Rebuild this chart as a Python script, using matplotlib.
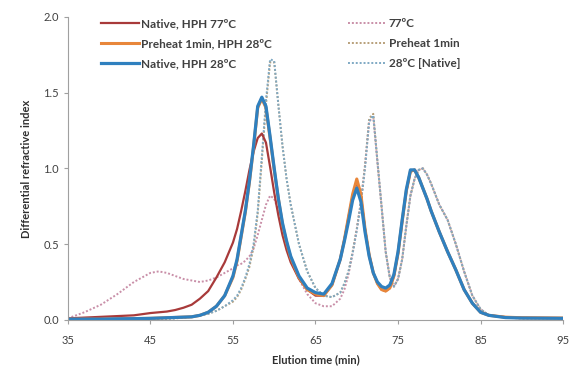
import matplotlib
matplotlib.use("Agg")
import matplotlib.pyplot as plt

plt.rcParams['font.family'] = ['Lato', 'DejaVu Sans']

# Elution time grid (min)
time_min = [35, 37, 39, 41, 43, 45, 46, 47, 48, 49, 50, 51, 52, 53, 54, 55,
            55.5, 56, 56.5, 57, 57.5, 58, 58.5, 59, 59.5, 60, 60.5, 61, 61.5, 62,
            63, 64, 65, 66, 67, 68,
            68.5, 69, 69.5, 70, 70.5, 71, 71.5, 72, 72.5, 73, 73.5, 74, 74.5,
            75, 75.5, 76, 76.5, 77, 77.5, 78, 78.5, 79,
            80, 81, 82, 83, 84, 85, 86, 88, 90, 95]

native_hph77 = [0.01, 0.015, 0.02, 0.025, 0.03, 0.045, 0.05, 0.055, 0.065, 0.08, 0.1, 0.14, 0.19, 0.28, 0.38, 0.51,
                0.6, 0.72, 0.85, 0.99, 1.11, 1.2, 1.23, 1.17, 1.01, 0.84, 0.69, 0.56, 0.46, 0.38,
                0.27, 0.2, 0.16, 0.16, 0.23, 0.4,
                0.53, 0.68, 0.82, 0.91, 0.82, 0.6, 0.43, 0.31, 0.24, 0.2, 0.19, 0.21, 0.29,
                0.44, 0.65, 0.85, 0.98, 0.99, 0.94, 0.87, 0.8, 0.72,
                0.58, 0.45, 0.33, 0.2, 0.11, 0.05, 0.03, 0.018, 0.014, 0.012]

preheat_hph28 = [0.005, 0.005, 0.005, 0.007, 0.008, 0.01, 0.012, 0.014, 0.016, 0.018, 0.02, 0.03, 0.05, 0.09, 0.16, 0.28,
                 0.39, 0.55, 0.71, 0.91, 1.14, 1.4, 1.46, 1.4, 1.2, 0.99, 0.8, 0.63, 0.51, 0.41,
                 0.28, 0.2, 0.17, 0.16, 0.23, 0.4,
                 0.53, 0.68, 0.83, 0.93, 0.83, 0.6, 0.43, 0.31, 0.24, 0.2, 0.19, 0.21, 0.29,
                 0.44, 0.65, 0.85, 0.98, 0.99, 0.94, 0.87, 0.8, 0.72,
                 0.58, 0.45, 0.33, 0.2, 0.11, 0.05, 0.03, 0.018, 0.014, 0.012]

native_hph28 = [0.005, 0.005, 0.005, 0.007, 0.008, 0.01, 0.012, 0.014, 0.016, 0.018, 0.02, 0.03, 0.05, 0.09, 0.16, 0.29,
                0.4, 0.56, 0.72, 0.92, 1.15, 1.41, 1.47, 1.41, 1.21, 1.0, 0.8, 0.64, 0.52, 0.42,
                0.29, 0.21, 0.18, 0.17, 0.24, 0.4,
                0.52, 0.65, 0.79, 0.87, 0.78, 0.58, 0.42, 0.31, 0.25, 0.22, 0.21, 0.23, 0.3,
                0.45, 0.66, 0.86, 0.99, 0.99, 0.94, 0.87, 0.8, 0.72,
                0.58, 0.45, 0.33, 0.2, 0.11, 0.05, 0.03, 0.015, 0.012, 0.01]

heated_77 = [0.01, 0.05, 0.1, 0.17, 0.25, 0.31, 0.32, 0.31, 0.29, 0.27, 0.26, 0.25, 0.26, 0.28, 0.31, 0.34,
             0.36, 0.37, 0.39, 0.42, 0.47, 0.56, 0.66, 0.76, 0.82, 0.8, 0.72, 0.6, 0.5, 0.41,
             0.27, 0.17, 0.11, 0.09, 0.09, 0.14,
             0.2, 0.3, 0.44, 0.6, 0.78, 1.02, 1.31, 1.34, 1.04, 0.75, 0.45, 0.28, 0.22,
             0.27, 0.4, 0.62, 0.82, 0.93, 0.99, 1.0, 0.96, 0.9,
             0.76, 0.66, 0.5, 0.32, 0.16, 0.07, 0.03, 0.015, 0.01, 0.01]

preheat_1min = [0.0, 0.0, 0.0, 0.002, 0.004, 0.005, 0.006, 0.008, 0.01, 0.015, 0.02, 0.03, 0.04, 0.06, 0.09, 0.12,
                0.15, 0.2, 0.27, 0.35, 0.48, 0.7, 1.05, 1.42, 1.7, 1.7, 1.42, 1.15, 0.93, 0.76,
                0.5, 0.32, 0.21, 0.16, 0.15, 0.18,
                0.24, 0.32, 0.45, 0.6, 0.78, 1.02, 1.33, 1.36, 1.05, 0.75, 0.45, 0.28, 0.22,
                0.27, 0.4, 0.62, 0.82, 0.93, 0.99, 1.0, 0.96, 0.9,
                0.76, 0.66, 0.5, 0.32, 0.16, 0.07, 0.03, 0.015, 0.01, 0.01]

native_28 = [0.0, 0.0, 0.0, 0.002, 0.004, 0.005, 0.006, 0.008, 0.01, 0.015, 0.02, 0.03, 0.04, 0.06, 0.09, 0.13,
             0.16, 0.21, 0.28, 0.37, 0.5, 0.72, 1.08, 1.45, 1.72, 1.71, 1.42, 1.15, 0.93, 0.76,
             0.5, 0.32, 0.21, 0.16, 0.15, 0.18,
             0.24, 0.32, 0.44, 0.59, 0.77, 1.0, 1.31, 1.35, 1.05, 0.75, 0.45, 0.28, 0.22,
             0.27, 0.4, 0.62, 0.82, 0.93, 0.99, 1.0, 0.96, 0.9,
             0.76, 0.66, 0.5, 0.32, 0.16, 0.07, 0.03, 0.015, 0.01, 0.01]

fig = plt.figure(figsize=(5.7, 3.75), dpi=100)
ax = fig.add_axes([0.119, 0.147, 0.869, 0.808])

d1, = ax.plot(time_min, heated_77, color='#c98fa8', lw=1.4, ls=(0, (1, 1)), label='77ºC')
d2, = ax.plot(time_min, preheat_1min, color='#b8a07a', lw=1.4, ls=(0, (1, 1)), label='Preheat 1min')
d3, = ax.plot(time_min, native_28, color='#7fa9c4', lw=1.4, ls=(0, (1, 1)), label='28ºC [Native]')
s1, = ax.plot(time_min, native_hph77, color='#a83a3a', lw=1.6, label='Native, HPH 77ºC')
s2, = ax.plot(time_min, preheat_hph28, color='#e8863a', lw=2.2, label='Preheat 1min, HPH 28ºC')
s3, = ax.plot(time_min, native_hph28, color='#2f80bf', lw=2.3, label='Native, HPH 28ºC')

ax.set_xlim(35, 95)
ax.set_ylim(0, 2.0)
ax.set_xticks([35, 45, 55, 65, 75, 85, 95])
ax.set_yticks([0.0, 0.5, 1.0, 1.5, 2.0])
ax.set_yticklabels(['0.0', '0.5', '1.0', '1.5', '2.0'])
for side in ['top', 'right']:
    ax.spines[side].set_visible(False)
for side in ['left', 'bottom']:
    ax.spines[side].set_color('#a0a0a0')
ax.tick_params(axis='both', colors='#a0a0a0', labelcolor='#404040', labelsize=8, length=3)
ax.tick_params(axis='x', pad=8)

ax.set_xlabel('Elution time (min)', fontsize=8, fontweight='bold', color='#303030', labelpad=6)
ax.set_ylabel('Differential refractive index', fontsize=8, fontweight='bold', color='#303030', labelpad=8)

leg1 = ax.legend(handles=[s1, s2, s3], loc='upper left', bbox_to_anchor=(0.045, 1.03),
                 frameon=False, handlelength=3.2, handletextpad=0.2, labelspacing=0.75,
                 prop={'size': 8.5, 'weight': 'bold'})
for t in leg1.get_texts():
    t.set_color('#404040')
ax.add_artist(leg1)
leg2 = ax.legend(handles=[d1, d2, d3], loc='upper left', bbox_to_anchor=(0.545, 1.03),
                 frameon=False, handlelength=3.2, handletextpad=0.2, labelspacing=0.75,
                 prop={'size': 8.5, 'weight': 'bold'})
for t in leg2.get_texts():
    t.set_color('#404040')

fig.savefig('out.png', dpi=100)
